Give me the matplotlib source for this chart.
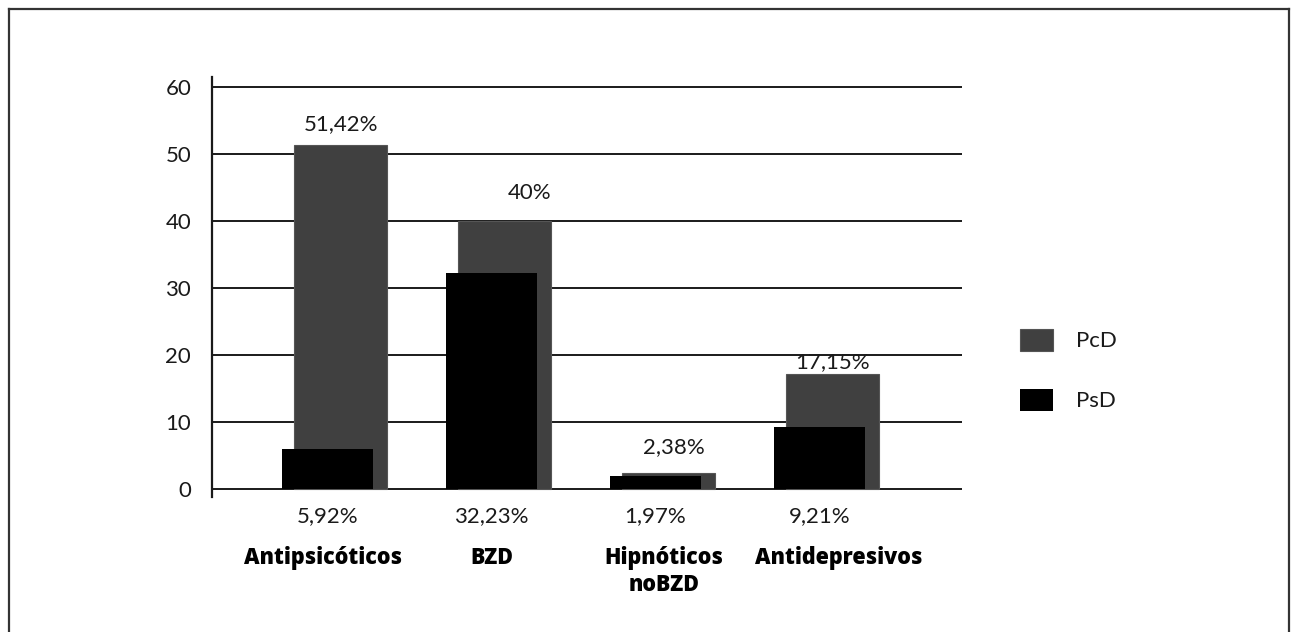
import matplotlib
matplotlib.use('Agg')
import matplotlib.pyplot as plt
from matplotlib.lines import Line2D
import numpy as np

# Data
categories = ['Antipsicóticos', 'BZD', 'Hipnóticos\nnoBZD', 'Antidepresivos']
pcd_values = [51.42, 40, 2.38, 17.15]
psd_values = [5.92, 32.23, 1.97, 9.21]
pcd_labels = ['51,42%', '40%', '2,38%', '17,15%']
psd_labels = ['5,92%', '32,23%', '1,97%', '9,21%']
y_ticks = [0, 10, 20, 30, 40, 50, 60]

# Layout tweaks for the labels (data units)
pcd_label_dx = [0.0, 0.15, 0.03, 0.0]
pcd_label_dy = [3.1, 4.2, 3.8, 1.8]
cat_dx = [-0.1, -0.07, -0.02, 0.05]

light_font = 'Lato'
bold_font = 'Open Sans'
text_color = '#1a1a1a'
gray = '#404040'
fs = 16

fig = plt.figure(figsize=(12.91, 6.32), dpi=100)
ax = fig.add_axes([212 / 1291, (632 - 497) / 632, 750 / 1291, 420 / 632])

x = np.arange(len(categories))

# Gridlines (including the zero line)
for t in y_ticks:
    ax.axhline(t, color='#1a1a1a', lw=1.4, zorder=1)

ax.bar(x + 0.01, pcd_values, width=0.567, color=gray, edgecolor='#555555', linewidth=0.8,
       zorder=2, label='PcD')
ax.bar(x - 0.07, psd_values, width=0.555, color='black', linewidth=0, zorder=3,
       label='PsD')

# PcD labels above the gray bars
for i, (v, lab) in enumerate(zip(pcd_values, pcd_labels)):
    ax.text(i + 0.01 + pcd_label_dx[i], v + pcd_label_dy[i], lab, ha='center', va='center',
            fontsize=fs, family=light_font, color=text_color)

# PsD labels below the axis
for i, lab in enumerate(psd_labels):
    ax.text(i - 0.07, -4.0, lab, ha='center', va='center', clip_on=False,
            fontsize=fs, family=light_font, color=text_color)

# Category names
for i, cat in enumerate(categories):
    ax.text(i + cat_dx[i], -8.5, cat, ha='center', va='top', clip_on=False,
            fontsize=15.5, family=bold_font, weight='heavy', color='black',
            linespacing=1.2)

ax.set_xlim(-0.774, 3.799)
ax.set_ylim(-1.2, 61.5)
ax.set_yticks(y_ticks)
ax.set_xticks([])
ax.tick_params(axis='y', length=0, pad=15, labelsize=fs, labelcolor=text_color)
for lab in ax.get_yticklabels():
    lab.set_family(light_font)

for s in ['top', 'right', 'bottom']:
    ax.spines[s].set_visible(False)
ax.spines['left'].set_color('#1a1a1a')
ax.spines['left'].set_linewidth(1.6)

leg = fig.legend(loc='center left', bbox_to_anchor=(1020 / 1291, 1 - 370 / 632),
                 frameon=False, handlelength=1.5, handleheight=1.15,
                 labelspacing=1.7, handletextpad=1.0, borderpad=0,
                 borderaxespad=0, prop={'family': light_font, 'size': fs})
for t in leg.get_texts():
    t.set_color(text_color)

# Outer frame (bottom edge is cut off in the original)
frame_kw = dict(color='#333333', lw=1.6, transform=fig.transFigure)
x0, x1, y1 = 9 / 1291, 1289 / 1291, 1 - 9 / 632
fig.add_artist(Line2D([x0, x0], [0, y1], **frame_kw))
fig.add_artist(Line2D([x0, x1], [y1, y1], **frame_kw))
fig.add_artist(Line2D([x1, x1], [0, y1], **frame_kw))

fig.savefig('out.png', dpi=100)
